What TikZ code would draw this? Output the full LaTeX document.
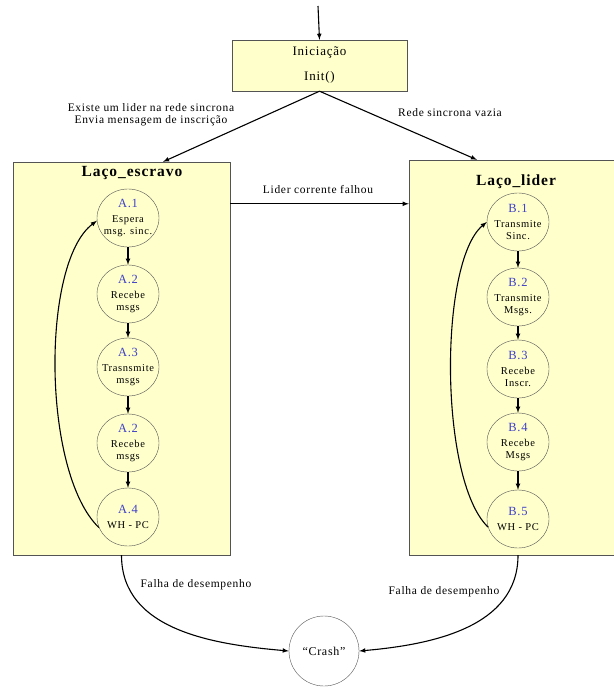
\documentclass[tikz,border=0pt]{standalone}
\usepackage{fontspec}
\setmainfont{Liberation Serif}
\newfontfamily\rotfont[LetterSpace=6]{Liberation Serif}
\usetikzlibrary{arrows,shapes.geometric}
\definecolor{amarelo}{rgb}{1,1,0.8}
\definecolor{azul}{rgb}{0.25,0.25,0.78}
\definecolor{borda}{rgb}{0.33,0.33,0.33}
\newcommand{\ind}[1]{\textcolor{azul}{\fontsize{12.5}{13}\selectfont #1}}

\tikzset{
  caixa/.style={draw=borda, fill=amarelo, inner sep=0pt},
  estado/.style={draw=borda, fill=amarelo, ellipse, minimum width=62pt, minimum height=58pt,
    inner xsep=-6pt, inner ysep=-2pt, align=center, font=\rotfont\fontsize{10.5}{12}\selectfont},
  seta/.style={->, >=latex, line width=1.1pt},
  rotulo/.style={font=\rotfont\fontsize{11.5}{12}\selectfont, align=center},
}

\begin{document}
\begin{tikzpicture}[x=1pt,y=-1pt]
\useasboundingbox (0,0) rectangle (613,687);
% caixas
\coordinate (entrada) at (318,6);
\node[caixa, minimum width=175pt, minimum height=51pt, align=center, font=\rotfont\fontsize{13}{14}\selectfont] (init) at (319.5,65.5) {Iniciação\\[11pt]Init()};
\node[caixa, minimum width=217pt, minimum height=393pt] (escravo) at (121.5,358.5) {};
\node[caixa, minimum width=218pt, minimum height=395pt] (lider) at (518,357.5) {};
\node[font=\rotfont\bfseries\fontsize{15.5}{16}\selectfont] (tescravo) at (132,173) {Laço\_escravo};
\node[font=\rotfont\bfseries\fontsize{15.5}{16}\selectfont] (tlider) at (516,182) {Laço\_lider};

% estados do escravo
\node[estado] (a1) at (128,218) {\ind{A.1}\\[3pt]Espera\\msg. sinc.};
\node[estado] (a2) at (128,294) {\ind{A.2}\\[3pt]Recebe\\msgs};
\node[estado] (a3) at (128,367) {\ind{A.3}\\[3pt]Trasnsmite\\msgs};
\node[estado] (a4) at (128,443) {\ind{A.2}\\[3pt]Recebe\\msgs};
\node[estado] (a5) at (128,517) {\ind{A.4}\\[3pt]WH - PC};
% estados do lider
\node[estado] (b1) at (518,222) {\ind{B.1}\\[3pt]Transmite\\Sinc.};
\node[estado] (b2) at (518,297) {\ind{B.2}\\[3pt]Transmite\\Msgs.};
\node[estado] (b3) at (518,369) {\ind{B.3}\\[3pt]Recebe\\Inscr.};
\node[estado] (b4) at (518,442) {\ind{B.4}\\[3pt]Recebe\\Msgs};
\node[estado] (b5) at (518,519) {\ind{B.5}\\[3pt]WH - PC};

\node[draw=borda, circle, minimum size=70pt, inner sep=0pt, font=\rotfont\fontsize{12}{13}\selectfont] (crash) at (324,651) {“Crash”};

% rotulos
\node[rotulo] (lexiste) at (151,115) {Existe um lider na rede sincrona\\Envia mensagem de inscrição};
\node[rotulo] (lvazia) at (450,113) {Rede sincrona vazia};
\node[rotulo] (lfalhou) at (318,190) {Lider corrente falhou};
\node[rotulo] (lfalhaA) at (196,585) {Falha de desempenho};
\node[rotulo] (lfalhaB) at (444,592) {Falha de desempenho};

% setas
\draw[seta] (entrada) -- (init.north);
\draw[seta] (init.south) -- ([xshift=41.5pt]escravo.north);
\draw[seta] (init.south) -- ([xshift=-41pt]lider.north);
\draw[seta] ([yshift=-42pt]escravo.north east) -- ([yshift=-44pt]lider.north west);
\draw[seta] (a1) -- (a2);
\draw[seta] (a2) -- (a3);
\draw[seta] (a3) -- (a4);
\draw[seta] (a4) -- (a5);
\draw[seta] (b1) -- (b2);
\draw[seta] (b2) -- (b3);
\draw[seta] (b3) -- (b4);
\draw[seta] (b4) -- (b5);
\draw[seta] (a5.200) .. controls +(-57,-55) and +(-56,42) .. (a1.185);
\draw[seta] (b5.195) .. controls +(-49,-47) and +(-48,40) .. (b1.180);
\draw[seta] (escravo.south) to[out=-90, in=175] (crash.west);
\draw[seta] (lider.south) to[out=-90, in=5] (crash.east);
\end{tikzpicture}
\end{document}
